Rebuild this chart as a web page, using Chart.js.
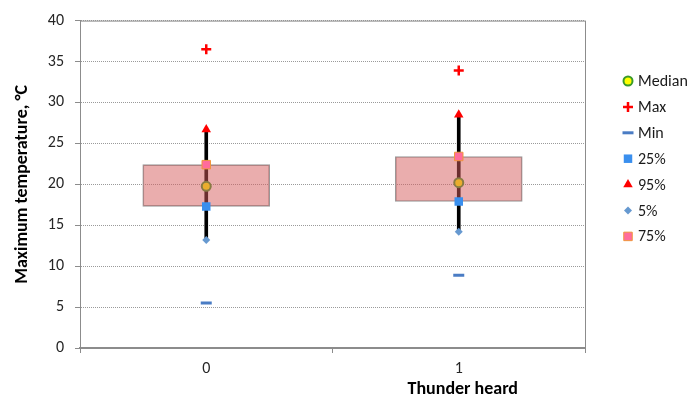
<!DOCTYPE html>
<html>
<head>
<meta charset="utf-8">
<script src="https://cdn.jsdelivr.net/npm/chart.js@4.4.0/dist/chart.umd.min.js"></script>
<style>
html, body { margin: 0; padding: 0; background: #fff; }
#wrap { width: 689px; height: 398px; }
</style>
</head>
<body>
<div id="wrap"><canvas id="chart" width="689" height="398"></canvas></div>
<script>
// values
var categories = ['0', '1'];
var medianValues = [19.75, 20.2];
var maxValues = [36.5, 33.9];
var minValues = [5.5, 8.9];
var p25Values = [17.3, 17.9];
var p95Values = [26.7, 28.5];
var p5Values = [13.2, 14.2];
var p75Values = [22.4, 23.4];
var yTickMin = 0, yTickMax = 40, yTickStep = 5;

var FONT = "Carlito, Lato, 'Liberation Sans', sans-serif";

function pairs(lo, hi) {
    return categories.map(function (c, i) { return [lo[i], hi[i]]; });
}

function markerSet(label, values, style, radius, fill, stroke, width, order) {
    return {
        type: 'line',
        label: label,
        data: values,
        showLine: false,
        pointStyle: style,
        pointRadius: radius,
        pointHoverRadius: radius,
        pointBackgroundColor: fill,
        pointBorderColor: stroke,
        pointBorderWidth: width,
        backgroundColor: fill,
        borderColor: stroke,
        order: order,
        isMarker: true
    };
}

var datasets = [
    markerSet('Median', medianValues, 'circle', 4.5, '#ffff00', '#3a9a2a', 2, 3),
    markerSet('Max', maxValues, 'cross', 5, '#ff0000', '#ff0000', 2.5, 1),
    markerSet('Min', minValues, 'line', 5.5, '#4a7cc4', '#4a7cc4', 3, 1),
    markerSet('25%', p25Values, 'rect', 6, '#3a8fee', '#3a8fee', 0, 1),
    markerSet('95%', p95Values, 'triangle', 5.5, '#ff0000', '#ff0000', 0, 1),
    markerSet('5%', p5Values, 'rectRot', 4, '#6699d0', '#6699d0', 0, 1),
    markerSet('75%', p75Values, 'rect', 6, '#ff6c9c', '#f0963c', 1, 1),
    {
        type: 'bar',
        label: 'box',
        data: pairs(p25Values, p75Values),
        backgroundColor: 'rgba(214, 92, 92, 0.5)',
        borderColor: '#9a9a9a',
        borderWidth: 1,
        borderSkipped: false,
        barThickness: 127,
        grouped: false,
        order: 2
    },
    {
        type: 'bar',
        label: 'whisker',
        data: pairs(p5Values, p95Values),
        backgroundColor: '#000000',
        borderWidth: 0,
        barThickness: 3,
        grouped: false,
        order: 4
    }
];

var extras = {
    id: 'extras',
    afterDraw: function (chart) {
        var ctx = chart.ctx;
        var area = chart.chartArea;
        ctx.save();
        // plot frame
        ctx.strokeStyle = '#8c8c8c';
        ctx.lineWidth = 1;
        ctx.strokeRect(area.left + 0.5, area.top + 0.5, area.right - area.left, area.bottom - area.top);

        // x axis title under category 1
        var xs = chart.scales.x;
        ctx.fillStyle = '#000';
        ctx.font = 'bold 18px ' + FONT;
        ctx.textAlign = 'center';
        ctx.textBaseline = 'middle';
        ctx.fillText('Thunder heard', xs.getPixelForValue(1) + 4, 389);

        // legend
        var lx = area.right + 43;
        var ly = 81;
        ctx.font = '16px ' + FONT;
        ctx.textAlign = 'left';
        chart.data.datasets.forEach(function (ds) {
            if (!ds.isMarker) return;
            ctx.fillStyle = ds.pointBackgroundColor;
            ctx.strokeStyle = ds.pointBorderColor;
            ctx.lineWidth = ds.pointBorderWidth;
            Chart.helpers.drawPoint(ctx, {
                pointStyle: ds.pointStyle,
                radius: ds.pointRadius,
                rotation: 0,
                borderWidth: ds.pointBorderWidth
            }, lx, ly);
            ctx.fillStyle = '#1a1a1a';
            ctx.fillText(ds.label, lx + 10, ly + 1);
            ly += 25.9;
        });
        ctx.restore();
    }
};

new Chart(document.getElementById('chart'), {
    type: 'bar',
    data: { labels: categories, datasets: datasets },
    plugins: [extras],
    options: {
        responsive: false,
        animation: false,
        layout: { padding: { left: 10, right: 104, top: 18, bottom: 0 } },
        plugins: {
            legend: { display: false },
            tooltip: { enabled: false }
        },
        scales: {
            x: {
                type: 'category',
                offset: true,
                afterFit: function (s) { s.height = 50; },
                grid: { drawOnChartArea: false, drawTicks: true, tickLength: 5, color: '#8c8c8c' },
                border: { color: '#8c8c8c', width: 1.5 },
                ticks: { padding: 6, color: '#262626', font: { family: FONT, size: 16 } }
            },
            y: {
                min: yTickMin,
                max: yTickMax,
                afterFit: function (s) { s.width = 70; },
                grid: { color: '#9a9a9a', tickLength: 5, tickColor: '#8c8c8c' },
                border: { color: '#8c8c8c', width: 1, dash: [1, 1] },
                ticks: { stepSize: yTickStep, padding: 11, color: '#262626', font: { family: FONT, size: 16 } },
                title: {
                    display: true,
                    text: 'Maximum temperature, °C',
                    color: '#000',
                    padding: { top: 2, bottom: 0 },
                    font: { family: FONT, size: 18, weight: 'bold' }
                }
            }
        }
    }
});
</script>
</body>
</html>
